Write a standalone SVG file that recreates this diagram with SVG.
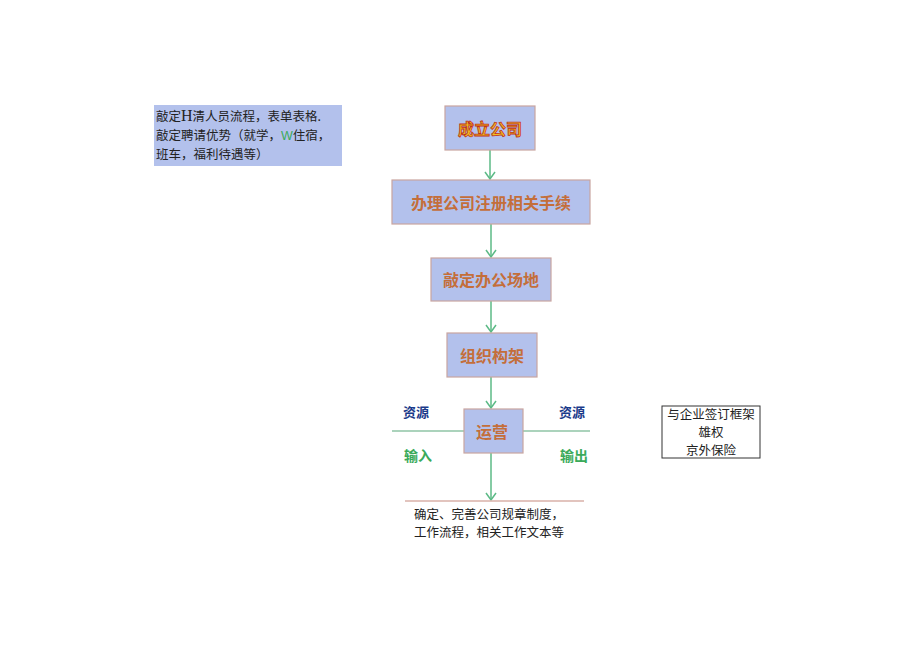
<svg xmlns="http://www.w3.org/2000/svg" width="920" height="651" viewBox="0 0 920 651">
<defs>
<marker id="arr" markerWidth="12" markerHeight="12" refX="9" refY="6" orient="auto" markerUnits="userSpaceOnUse">
<path d="M2,1 L9,6 L2,11" fill="none" stroke="#5cba86" stroke-width="1.5"/>
</marker>
</defs>
<style>
.box{fill:#b3c1ec;stroke:#c9a5a0;stroke-width:1.2}
.t{font-family:"Noto Sans CJK SC","Noto Sans",sans-serif;font-weight:bold;font-size:16px;fill:#c46e3a;text-anchor:middle;dominant-baseline:central}
.s{font-family:"Noto Sans CJK SC",sans-serif;font-size:12.5px;fill:#222}
.c{stroke:#5cba86;stroke-width:1.5;fill:none}
.g{font-family:"Noto Sans CJK SC",sans-serif;font-weight:bold;font-size:14px;fill:#3aaa5a}
.b{font-family:"Noto Sans CJK SC",sans-serif;font-weight:bold;font-size:13px;fill:#1a3a8a}
</style>
<rect width="920" height="651" fill="#fff"/>
<g id="note">
<rect x="154" y="105" width="188" height="61" fill="#b3c1ec"/>
<text class="s" x="156" y="121">敲定<tspan font-family="Liberation Serif,serif" font-size="16">H</tspan>清人员流程，表单表格.</text>
<text class="s" x="156" y="140">敲定聘请优势（就学，<tspan fill="#3aaa5a" font-family="Liberation Sans,sans-serif">W</tspan>住宿，</text>
<text class="s" x="156" y="159">班车，福利待遇等）</text>
</g>
<g id="connectors">
<line class="c" x1="490" y1="150" x2="490" y2="179" marker-end="url(#arr)"/>
<line class="c" x1="491" y1="224" x2="491" y2="257" marker-end="url(#arr)"/>
<line class="c" x1="491" y1="301" x2="491" y2="332" marker-end="url(#arr)"/>
<line class="c" x1="491" y1="377" x2="491" y2="408" marker-end="url(#arr)"/>
<line class="c" x1="491" y1="453" x2="491" y2="500" marker-end="url(#arr)"/>
<line stroke="#8fc4a6" stroke-width="1.5" x1="392" y1="431" x2="464" y2="431"/>
<line stroke="#8fc4a6" stroke-width="1.5" x1="523" y1="431" x2="590" y2="431"/>
<line stroke="#d8b0a8" stroke-width="1.5" x1="405" y1="501" x2="584" y2="501"/>
</g>
<g id="n1">
<rect class="box" x="445" y="106" width="90" height="44"/>
<text x="490" y="128" text-anchor="middle" dominant-baseline="central" font-family="Noto Sans CJK SC,sans-serif" font-weight="bold" font-size="16" fill="#f0c020" stroke="#c0301a" stroke-width="0.8">成立公司</text>
</g>
<g id="n2">
<rect class="box" x="392" y="180" width="198" height="44"/>
<text class="t" x="491" y="202">办理公司注册相关手续</text>
</g>
<g id="n3">
<rect class="box" x="431" y="258" width="120" height="43"/>
<text class="t" x="491" y="279">敲定办公场地</text>
</g>
<g id="n4">
<rect class="box" x="447" y="333" width="90" height="44"/>
<text class="t" x="492" y="355">组织构架</text>
</g>
<g id="n5">
<rect class="box" x="464" y="409" width="59" height="44"/>
<text class="t" x="492" y="431">运营</text>
</g>
<g id="labels">
<text class="b" x="403" y="417">资源</text>
<text class="b" x="559" y="417">资源</text>
<text class="g" x="404" y="461">输入</text>
<text class="g" x="560" y="461">输出</text>
</g>
<g id="result">
<text class="s" x="489" y="519" text-anchor="middle">确定、完善公司规章制度，</text>
<text class="s" x="489" y="537" text-anchor="middle">工作流程，相关工作文本等</text>
</g>
<g id="side">
<rect x="662" y="406" width="98" height="52" fill="#fff" stroke="#333" stroke-width="1"/>
<text class="s" x="711" y="419" text-anchor="middle">与企业签订框架</text>
<text class="s" x="711" y="437" text-anchor="middle">雄权</text>
<text class="s" x="711" y="455" text-anchor="middle">京外保险</text>
</g>
</svg>
